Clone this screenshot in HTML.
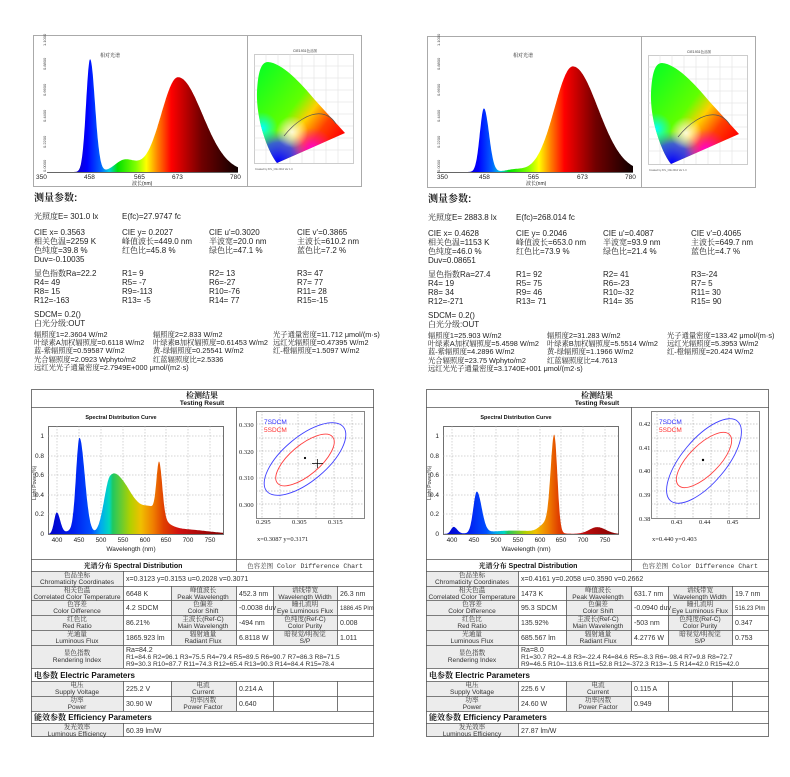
<!DOCTYPE html>
<html><head><meta charset="utf-8"><style>
html,body{margin:0;padding:0;background:#fff;}
svg{display:block;font-family:"Liberation Sans","Noto Serif CJK SC",sans-serif;}
.t{font-size:8px;fill:#222;}
.ir{font-size:7.3px;}
.c{font-family:"Liberation Serif","Noto Serif CJK SC",serif;}
.tb{font-size:6.6px;fill:#333;}
.tv{font-size:7px;fill:#333;}
.ax{font-size:6.5px;fill:#222;}
</style></head><body>
<svg width="790" height="777" viewBox="0 0 790 777" xmlns="http://www.w3.org/2000/svg">
<defs>
<linearGradient id="gTop" gradientUnits="userSpaceOnUse" x1="47" y1="0" x2="238" y2="0">
<stop offset="0.12" stop-color="#1a00a0"/><stop offset="0.21" stop-color="#0000ff"/><stop offset="0.28" stop-color="#0060ff"/>
<stop offset="0.325" stop-color="#00d0e0"/><stop offset="0.37" stop-color="#00e000"/><stop offset="0.465" stop-color="#80ff00"/>
<stop offset="0.52" stop-color="#ffff00"/><stop offset="0.58" stop-color="#ff8000"/><stop offset="0.65" stop-color="#ff0000"/>
<stop offset="0.72" stop-color="#c00000"/><stop offset="0.81" stop-color="#700000"/><stop offset="1" stop-color="#100000"/>
</linearGradient>
<linearGradient id="gTop2" href="#gTop" x1="437" x2="633"/>
<linearGradient id="gBot" gradientUnits="userSpaceOnUse" x1="17" y1="0" x2="192" y2="0">
<stop offset="0" stop-color="#0000c8"/><stop offset="0.15" stop-color="#0020f0"/><stop offset="0.25" stop-color="#0050ff"/>
<stop offset="0.3" stop-color="#00a8f0"/><stop offset="0.35" stop-color="#00d8c0"/><stop offset="0.37" stop-color="#20c860"/>
<stop offset="0.47" stop-color="#b0d000"/><stop offset="0.53" stop-color="#f0c000"/><stop offset="0.6" stop-color="#f08000"/>
<stop offset="0.66" stop-color="#e04000"/><stop offset="0.75" stop-color="#d01010"/><stop offset="1" stop-color="#800000"/>
</linearGradient>
<linearGradient id="cieA" gradientUnits="userSpaceOnUse" x1="262" y1="70" x2="345" y2="133">
<stop offset="0" stop-color="#10ff20"/><stop offset="0.45" stop-color="#60ff00"/><stop offset="0.62" stop-color="#ffd000"/><stop offset="0.8" stop-color="#ff4000"/><stop offset="1" stop-color="#ff0000"/>
</linearGradient>
<radialGradient id="cieB" gradientUnits="userSpaceOnUse" cx="278" cy="162" r="32"><stop offset="0" stop-color="#0000ff"/><stop offset="0.6" stop-color="#2040ff" stop-opacity="0.8"/><stop offset="1" stop-color="#00a0ff" stop-opacity="0"/></radialGradient>
<radialGradient id="cieM" gradientUnits="userSpaceOnUse" cx="312" cy="150" r="22"><stop offset="0" stop-color="#ff00e0"/><stop offset="1" stop-color="#ff00c0" stop-opacity="0"/></radialGradient>
<radialGradient id="cieC" gradientUnits="userSpaceOnUse" cx="262" cy="128" r="16"><stop offset="0" stop-color="#00ffff"/><stop offset="1" stop-color="#00ffff" stop-opacity="0"/></radialGradient>
<radialGradient id="cieW" gradientUnits="userSpaceOnUse" cx="292" cy="132" r="16"><stop offset="0" stop-color="#ffffff" stop-opacity="0.85"/><stop offset="1" stop-color="#ffffff" stop-opacity="0"/></radialGradient>
<g id="cie">
<rect x="247.5" y="35.5" width="114" height="151" fill="#fff" stroke="#aaa"/>
<rect x="254.5" y="54.5" width="99" height="109" fill="#fff" stroke="#999" stroke-width="0.5"/>
<g stroke="#ddd" stroke-width="0.5">
<line x1="266" y1="54" x2="266" y2="163"/><line x1="278" y1="54" x2="278" y2="163"/><line x1="290" y1="54" x2="290" y2="163"/><line x1="302" y1="54" x2="302" y2="163"/><line x1="314" y1="54" x2="314" y2="163"/><line x1="326" y1="54" x2="326" y2="163"/><line x1="338" y1="54" x2="338" y2="163"/>
<line x1="254" y1="66" x2="353" y2="66"/><line x1="254" y1="78" x2="353" y2="78"/><line x1="254" y1="90" x2="353" y2="90"/><line x1="254" y1="102" x2="353" y2="102"/><line x1="254" y1="114" x2="353" y2="114"/><line x1="254" y1="126" x2="353" y2="126"/><line x1="254" y1="138" x2="353" y2="138"/><line x1="254" y1="150" x2="353" y2="150"/>
</g>
<path d="M277,163 C268,152 256,120 257,92 C258,72 261,62 268,62 C282,63 300,82 315,100 L345,133 Z" fill="url(#cieA)"/>
<path d="M277,163 C268,152 256,120 257,92 C258,72 261,62 268,62 C282,63 300,82 315,100 L345,133 Z" fill="url(#cieC)"/>
<path d="M277,163 C268,152 256,120 257,92 C258,72 261,62 268,62 C282,63 300,82 315,100 L345,133 Z" fill="url(#cieB)"/>
<path d="M277,163 C268,152 256,120 257,92 C258,72 261,62 268,62 C282,63 300,82 315,100 L345,133 Z" fill="url(#cieM)"/>
<path d="M277,163 C268,152 256,120 257,92 C258,72 261,62 268,62 C282,63 300,82 315,100 L345,133 Z" fill="url(#cieW)"/>
<path d="M284,136 C295,122 310,112 322,114 C328,115 333,119 336,124" fill="none" stroke="#555" stroke-width="0.7"/>
<text x="305" y="52" font-size="3.5" text-anchor="middle" fill="#333">CIE1931色品图</text>
<text x="255" y="170" font-size="2.5" fill="#555">Created by ATL_CIE 2012 Ver 1.0</text>
</g>
</defs>

<!-- ============ TOP LEFT ============ -->
<rect x="33.5" y="35.5" width="214" height="151" fill="#fff" stroke="#aaa"/>
<path id="s1" fill="url(#gTop)"/>
<line x1="47" y1="172.5" x2="238" y2="172.5" stroke="#333" stroke-width="0.7"/>
<text x="100" y="57" font-size="5" fill="#222" class="c">相对光谱</text>
<g font-size="4" fill="#444">
<text transform="translate(46,172) rotate(-90)">0.0000</text><text transform="translate(46,148) rotate(-90)">0.2200</text>
<text transform="translate(46,122) rotate(-90)">0.4400</text><text transform="translate(46,96) rotate(-90)">0.6600</text>
<text transform="translate(46,70) rotate(-90)">0.8800</text><text transform="translate(46,46) rotate(-90)">1.1000</text>
</g>
<g class="ax" font-size="6"><text x="36" y="179">350</text><text x="84" y="179">458</text><text x="134" y="179">565</text><text x="172" y="179">673</text><text x="230" y="179">780</text>
<text x="132" y="185" font-size="5">波长(nm)</text></g>
<use href="#cie"/>

<g class="t">
<text x="34" y="201" font-size="10" font-weight="bold">测量参数:</text>
<text x="34" y="219"><tspan class="c">光照度</tspan>E=  301.0 lx</text><text x="122" y="219">E(fc)=27.9747 fc</text>
<text x="34" y="235">CIE x= 0.3563</text><text x="122" y="235">CIE y= 0.2027</text><text x="209" y="235">CIE u'=0.3020</text><text x="297" y="235">CIE v'=0.3865</text>
<text x="34" y="244"><tspan class="c">相关色温</tspan>=2259 K</text><text x="122" y="244"><tspan class="c">峰值波长</tspan>=449.0 nm</text><text x="209" y="244"><tspan class="c">半波宽</tspan>=20.0 nm</text><text x="297" y="244"><tspan class="c">主波长</tspan>=610.2 nm</text>
<text x="34" y="253"><tspan class="c">色纯度</tspan>=39.8 %</text><text x="122" y="253"><tspan class="c">红色比</tspan>=45.8 %</text><text x="209" y="253"><tspan class="c">绿色比</tspan>=47.1 %</text><text x="297" y="253"><tspan class="c">蓝色比</tspan>=7.2 %</text>
<text x="34" y="262">Duv=-0.10035</text>
<text x="34" y="276"><tspan class="c">显色指数</tspan>Ra=22.2</text><text x="122" y="276">R1=  9</text><text x="209" y="276">R2= 13</text><text x="297" y="276">R3= 47</text>
<text x="34" y="285">R4= 49</text><text x="122" y="285">R5= -7</text><text x="209" y="285">R6=-27</text><text x="297" y="285">R7= 77</text>
<text x="34" y="294">R8= 15</text><text x="122" y="294">R9=-113</text><text x="209" y="294">R10=-76</text><text x="297" y="294">R11= 28</text>
<text x="34" y="303">R12=-163</text><text x="122" y="303">R13= -5</text><text x="209" y="303">R14= 77</text><text x="297" y="303">R15=-15</text>
<text x="34" y="317">SDCM= 0.2()</text>
<text x="34" y="326"><tspan class="c">白光分级</tspan>:OUT</text>
<g class="ir">
<text x="34" y="337"><tspan class="c">辐照度</tspan>1=2.3604 W/m2</text><text x="153" y="337"><tspan class="c">辐照度</tspan>2=2.833 W/m2</text><text x="273" y="337"><tspan class="c">光子通量密度</tspan>=11.712 μmol/(m·s)</text>
<text x="34" y="345"><tspan class="c">叶绿素</tspan>A<tspan class="c">加权辐照度</tspan>=0.6118 W/m2</text><text x="153" y="345"><tspan class="c">叶绿素</tspan>B<tspan class="c">加权辐照度</tspan>=0.61453 W/m2</text><text x="273" y="345"><tspan class="c">远红光辐照度</tspan>=0.47395 W/m2</text>
<text x="34" y="353"><tspan class="c">蓝-紫辐照度</tspan>=0.59587 W/m2</text><text x="153" y="353"><tspan class="c">黄-绿辐照度</tspan>=0.25541 W/m2</text><text x="273" y="353"><tspan class="c">红-橙辐照度</tspan>=1.5097 W/m2</text>
<text x="34" y="362"><tspan class="c">光合辐照度</tspan>=2.0923 Wphyto/m2</text><text x="153" y="362"><tspan class="c">红蓝辐照度比</tspan>=2.5336</text>
<text x="34" y="370"><tspan class="c">远红光光子通量密度</tspan>=2.7949E+000 μmol/(m2·s)</text>
</g>
</g>

<!-- ============ TOP RIGHT ============ -->
<rect x="427.5" y="36.5" width="214" height="151" fill="#fff" stroke="#aaa"/>
<path id="s2" fill="url(#gTop2)"/>
<line x1="437" y1="172.5" x2="633" y2="172.5" stroke="#333" stroke-width="0.7"/>
<text x="513" y="57" font-size="5" fill="#222" class="c">相对光谱</text>
<g font-size="4" fill="#444">
<text transform="translate(440,172) rotate(-90)">0.0000</text><text transform="translate(440,148) rotate(-90)">0.2200</text>
<text transform="translate(440,122) rotate(-90)">0.4400</text><text transform="translate(440,96) rotate(-90)">0.6600</text>
<text transform="translate(440,70) rotate(-90)">0.8800</text><text transform="translate(440,46) rotate(-90)">1.1000</text>
</g>
<g class="ax" font-size="6"><text x="437" y="179">350</text><text x="479" y="179">458</text><text x="528" y="179">565</text><text x="577" y="179">673</text><text x="625" y="179">780</text>
<text x="526" y="185" font-size="5">波长(nm)</text></g>
<use href="#cie" x="394" y="1"/>

<g class="t" transform="translate(394,1)">
<text x="34" y="201" font-size="10" font-weight="bold">测量参数:</text>
<text x="34" y="219"><tspan class="c">光照度</tspan>E=  2883.8 lx</text><text x="122" y="219">E(fc)=268.014 fc</text>
<text x="34" y="235">CIE x= 0.4628</text><text x="122" y="235">CIE y= 0.2046</text><text x="209" y="235">CIE u'=0.4087</text><text x="297" y="235">CIE v'=0.4065</text>
<text x="34" y="244"><tspan class="c">相关色温</tspan>=1153 K</text><text x="122" y="244"><tspan class="c">峰值波长</tspan>=653.0 nm</text><text x="209" y="244"><tspan class="c">半波宽</tspan>=93.9 nm</text><text x="297" y="244"><tspan class="c">主波长</tspan>=649.7 nm</text>
<text x="34" y="253"><tspan class="c">色纯度</tspan>=46.0 %</text><text x="122" y="253"><tspan class="c">红色比</tspan>=73.9 %</text><text x="209" y="253"><tspan class="c">绿色比</tspan>=21.4 %</text><text x="297" y="253"><tspan class="c">蓝色比</tspan>=4.7 %</text>
<text x="34" y="262">Duv=0.08651</text>
<text x="34" y="276"><tspan class="c">显色指数</tspan>Ra=27.4</text><text x="122" y="276">R1= 92</text><text x="209" y="276">R2= 41</text><text x="297" y="276">R3=-24</text>
<text x="34" y="285">R4= 19</text><text x="122" y="285">R5= 75</text><text x="209" y="285">R6=-23</text><text x="297" y="285">R7=  5</text>
<text x="34" y="294">R8= 34</text><text x="122" y="294">R9= 46</text><text x="209" y="294">R10=-32</text><text x="297" y="294">R11= 30</text>
<text x="34" y="303">R12=-271</text><text x="122" y="303">R13= 71</text><text x="209" y="303">R14= 35</text><text x="297" y="303">R15= 90</text>
<text x="34" y="317">SDCM= 0.2()</text>
<text x="34" y="326"><tspan class="c">白光分级</tspan>:OUT</text>
<g class="ir">
<text x="34" y="337"><tspan class="c">辐照度</tspan>1=25.903 W/m2</text><text x="153" y="337"><tspan class="c">辐照度</tspan>2=31.283 W/m2</text><text x="273" y="337"><tspan class="c">光子通量密度</tspan>=133.42 μmol/(m·s)</text>
<text x="34" y="345"><tspan class="c">叶绿素</tspan>A<tspan class="c">加权辐照度</tspan>=5.4598 W/m2</text><text x="153" y="345"><tspan class="c">叶绿素</tspan>B<tspan class="c">加权辐照度</tspan>=5.5514 W/m2</text><text x="273" y="345"><tspan class="c">远红光辐照度</tspan>=5.3953 W/m2</text>
<text x="34" y="353"><tspan class="c">蓝-紫辐照度</tspan>=4.2896 W/m2</text><text x="153" y="353"><tspan class="c">黄-绿辐照度</tspan>=1.1966 W/m2</text><text x="273" y="353"><tspan class="c">红-橙辐照度</tspan>=20.424 W/m2</text>
<text x="34" y="362"><tspan class="c">光合辐照度</tspan>=23.75 Wphyto/m2</text><text x="153" y="362"><tspan class="c">红蓝辐照度比</tspan>=4.7613</text>
<text x="34" y="370"><tspan class="c">远红光光子通量密度</tspan>=3.1740E+001 μmol/(m2·s)</text>
</g>
</g>

<!-- ============ TABLE FRAMES (shared structure) ============ -->
<defs>
<g id="frame">
<rect x="0" y="389" width="343" height="348" fill="#fff"/>
<g fill="#ececec">
<rect x="0" y="571" width="92" height="15"/>
<rect x="0" y="586" width="92" height="59"/><rect x="140" y="586" width="65" height="59"/><rect x="242" y="586" width="64" height="59"/>
<rect x="0" y="645" width="92" height="23"/>
<rect x="0" y="681" width="92" height="30"/><rect x="140" y="681" width="65" height="30"/>
<rect x="0" y="723" width="92" height="14"/>
</g>
<g stroke="#555" stroke-width="0.8" fill="none">
<rect x="0.5" y="389.5" width="342" height="347"/>
<path d="M0 407.5H343M0 559.5H343M0 571.5H343M0 586.5H343M0 600.5H343M0 615.5H343M0 630.5H343M0 645.5H343M0 668.5H343M0 681.5H343M0 696.5H343M0 711.5H343M0 723.5H343"/>
<path d="M205.5 407V571M92.5 571V586M92.5 586V645M140.5 586V645M205.5 586V645M242.5 586V645M306.5 586V645M92.5 645V668M92.5 681V711M140.5 681V711M205.5 681V711M242.5 681V711M306.5 681V711M92.5 723V737"/>
</g>
<g text-anchor="middle" font-weight="bold" fill="#111">
<text x="171" y="398" font-size="8" class="c">检测结果</text>
<text x="171" y="405" font-size="6.5">Testing Result</text>
<text x="90" y="419" font-size="5.5">Spectral Distribution Curve</text>
<text x="102" y="568" font-size="7"><tspan class="c">光谱分布</tspan> Spectral Distribution</text>
</g>
<text x="274" y="568" font-size="6.5" text-anchor="middle" fill="#333" font-family="Liberation Mono,Noto Serif CJK SC,monospace"><tspan font-family="Noto Serif CJK SC,serif">色容差图</tspan> Color Difference Chart</text>
<text x="3" y="678" font-size="8" font-weight="bold" fill="#111"><tspan class="c">电参数</tspan> Electric Parameters</text>
<text x="3" y="720" font-size="8" font-weight="bold" fill="#111"><tspan class="c">能效参数</tspan> Efficiency Parameters</text>
<g class="tb" text-anchor="middle">
<text x="46" y="577">色品坐标</text><text x="46" y="584">Chromaticity Coordinates</text>
<text x="46" y="592">相关色温</text><text x="46" y="599">Correlated Color Temperature</text>
<text x="172" y="592">峰值波长</text><text x="172" y="599">Peak Wavelength</text>
<text x="274" y="592">谱线带宽</text><text x="274" y="599">Wavelength Width</text>
<text x="46" y="606">色容差</text><text x="46" y="613">Color Difference</text>
<text x="172" y="606">色偏差</text><text x="172" y="613">Color Shift</text>
<text x="274" y="606">瞳孔流明</text><text x="274" y="613">Eye Luminous Flux</text>
<text x="46" y="621">红色比</text><text x="46" y="628">Red Ratio</text>
<text x="172" y="621">主波长(Ref-C)</text><text x="172" y="628">Main Wavelength</text>
<text x="274" y="621">色纯度(Ref-C)</text><text x="274" y="628">Color Purity</text>
<text x="46" y="636">光通量</text><text x="46" y="643">Luminous Flux</text>
<text x="172" y="636">辐射通量</text><text x="172" y="643">Radiant Flux</text>
<text x="274" y="636">暗视觉/明视觉</text><text x="274" y="643">S/P</text>
<text x="46" y="655">显色指数</text><text x="46" y="662">Rendering Index</text>
<text x="46" y="687">电压</text><text x="46" y="694">Supply Voltage</text>
<text x="172" y="687">电流</text><text x="172" y="694">Current</text>
<text x="46" y="702">功率</text><text x="46" y="709">Power</text>
<text x="172" y="702">功率因数</text><text x="172" y="709">Power Factor</text>
<text x="46" y="729">发光效率</text><text x="46" y="736">Luminous Efficiency</text>
</g>
<rect x="17.5" y="426.5" width="175" height="108" fill="#fff" stroke="#333" stroke-width="0.7"/>
<g stroke="#aaa" stroke-width="0.5" stroke-dasharray="1.5,1.5">
<line x1="26" y1="426" x2="26" y2="534"/><line x1="48" y1="426" x2="48" y2="534"/><line x1="70" y1="426" x2="70" y2="534"/><line x1="92" y1="426" x2="92" y2="534"/><line x1="114" y1="426" x2="114" y2="534"/><line x1="135" y1="426" x2="135" y2="534"/><line x1="157" y1="426" x2="157" y2="534"/><line x1="179" y1="426" x2="179" y2="534"/>
<line x1="17" y1="436" x2="192" y2="436"/><line x1="17" y1="456" x2="192" y2="456"/><line x1="17" y1="475" x2="192" y2="475"/><line x1="17" y1="495" x2="192" y2="495"/><line x1="17" y1="514" x2="192" y2="514"/>
</g>
<g class="ax" text-anchor="middle">
<text x="26" y="542">400</text><text x="48" y="542">450</text><text x="70" y="542">500</text><text x="92" y="542">550</text><text x="114" y="542">600</text><text x="135" y="542">650</text><text x="157" y="542">700</text><text x="179" y="542">750</text>
<text x="100" y="551">Wavelength  (nm)</text>
</g>
<g class="ax" text-anchor="end">
<text x="13" y="536">0</text><text x="13" y="516">0.2</text><text x="13" y="497">0.4</text><text x="13" y="477">0.6</text><text x="13" y="458">0.8</text><text x="13" y="438">1</text>
</g>
<text transform="translate(5,500) rotate(-90)" font-size="5" fill="#333">Light Power(%)</text>
<rect x="225.5" y="411.5" width="108" height="107" fill="#fff" stroke="#555" stroke-width="0.7"/>
<g stroke="#999" stroke-width="0.5" stroke-dasharray="1.5,1.5">
<line x1="231" y1="411" x2="231" y2="518"/><line x1="249" y1="411" x2="249" y2="518"/><line x1="267" y1="411" x2="267" y2="518"/><line x1="285" y1="411" x2="285" y2="518"/><line x1="303" y1="411" x2="303" y2="518"/><line x1="321" y1="411" x2="321" y2="518"/>
<line x1="225" y1="424" x2="333" y2="424"/><line x1="225" y1="438" x2="333" y2="438"/><line x1="225" y1="451" x2="333" y2="451"/><line x1="225" y1="464" x2="333" y2="464"/><line x1="225" y1="478" x2="333" y2="478"/><line x1="225" y1="491" x2="333" y2="491"/><line x1="225" y1="504" x2="333" y2="504"/>
</g>
<text x="233" y="424" font-size="6.5" fill="#3030ff">7SDCM</text>
<text x="233" y="432" font-size="6.5" fill="#ff3030">5SDCM</text>
</g>
</defs>

<!-- ============ BOTTOM LEFT ============ -->
<g transform="translate(31,0)">
<use href="#frame"/>
<path id="s3" fill="url(#gBot)"/>
<g class="ax" font-family="Liberation Serif,serif">
<text x="208" y="427">0.330</text><text x="208" y="454">0.320</text><text x="208" y="480">0.310</text><text x="208" y="507">0.300</text>
<text x="225" y="524">0.295</text><text x="261" y="524">0.305</text><text x="297" y="524">0.315</text>
<text x="226" y="541">x=0.3087  y=0.3171</text>
</g>
<ellipse cx="274" cy="459" rx="50" ry="22" transform="rotate(-40 274 459)" fill="none" stroke="#4040ff" stroke-width="0.9"/>
<ellipse cx="274" cy="460" rx="36" ry="15" transform="rotate(-40 274 460)" fill="none" stroke="#ff4040" stroke-width="0.9"/>
<circle cx="274" cy="458" r="1.1" fill="#000"/>
<path d="M281 463.5H292M286.5 459V468" stroke="#000" stroke-width="0.7"/>
<g class="tv">
<text x="95" y="581">x=0.3123 y=0.3153 u=0.2028 v=0.3071</text>
<text x="95" y="596">6648  K</text><text x="208" y="596">452.3 nm</text><text x="309" y="596">26.3  nm</text>
<text x="95" y="610">4.2  SDCM</text><text x="208" y="610">-0.0038 duv</text><text x="309" y="610" font-size="6">1886.45 Plm</text>
<text x="95" y="625">86.21%</text><text x="208" y="625">-494 nm</text><text x="309" y="625">0.008</text>
<text x="95" y="640">1865.923 lm</text><text x="208" y="640">6.8118  W</text><text x="309" y="640">1.011</text>
<text x="95" y="652">Ra=84.2</text>
<text x="95" y="659" font-size="6.6">R1=84.6  R2=96.1  R3=75.5  R4=79.4  R5=89.5  R6=90.7  R7=86.3  R8=71.5</text>
<text x="95" y="666" font-size="6.6">R9=30.3  R10=87.7  R11=74.3  R12=65.4  R13=90.3  R14=84.4  R15=78.4</text>
<text x="95" y="691">225.2  V</text><text x="208" y="691">0.214  A</text>
<text x="95" y="706">30.90  W</text><text x="208" y="706">0.640</text>
<text x="95" y="733">60.39 lm/W</text>
</g>
</g>

<!-- ============ BOTTOM RIGHT ============ -->
<g transform="translate(426,0)">
<use href="#frame"/>
<path id="s4" fill="url(#gBot)"/>
<g class="ax" font-family="Liberation Serif,serif">
<text x="213" y="426">0.42</text><text x="213" y="450">0.41</text><text x="213" y="473">0.40</text><text x="213" y="497">0.39</text><text x="213" y="521">0.38</text>
<text x="245" y="524">0.43</text><text x="273" y="524">0.44</text><text x="301" y="524">0.45</text>
<text x="226" y="541">x=0.440  y=0.403</text>
</g>
<ellipse cx="278" cy="461" rx="52" ry="22" transform="rotate(-50 278 461)" fill="none" stroke="#4040ff" stroke-width="0.9"/>
<ellipse cx="278" cy="460" rx="36" ry="15" transform="rotate(-45 278 460)" fill="none" stroke="#ff4040" stroke-width="0.9"/>
<circle cx="277" cy="460" r="1.2" fill="#000"/>
<g class="tv">
<text x="95" y="581">x=0.4161 y=0.2058 u=0.3590 v=0.2662</text>
<text x="95" y="596">1473  K</text><text x="208" y="596">631.7 nm</text><text x="309" y="596">19.7  nm</text>
<text x="95" y="610">95.3  SDCM</text><text x="208" y="610">-0.0940 duv</text><text x="309" y="610" font-size="6">516.23 Plm</text>
<text x="95" y="625">135.92%</text><text x="208" y="625">-503 nm</text><text x="309" y="625">0.347</text>
<text x="95" y="640">685.567 lm</text><text x="208" y="640">4.2776  W</text><text x="309" y="640">0.753</text>
<text x="95" y="652">Ra=8.0</text>
<text x="95" y="659" font-size="6.6">R1=30.7  R2=-4.8  R3=-22.4  R4=84.6  R5=-8.3  R6=-98.4  R7=9.8  R8=72.7</text>
<text x="95" y="666" font-size="6.6">R9=46.5  R10=-113.6  R11=52.8  R12=-372.3  R13=-1.5  R14=42.0  R15=42.0</text>
<text x="95" y="691">225.6  V</text><text x="208" y="691">0.115  A</text>
<text x="95" y="706">24.60  W</text><text x="208" y="706">0.949</text>
<text x="95" y="733">27.87 lm/W</text>
</g>
</g>
</svg>
<script>
const G=(x,m,sl,sr,a)=>a*Math.exp(-0.5*Math.pow((x-m)/(x<m?sl:sr),2));
function P(id,f,w0,w1,x0,x1,yb,sc){let d='M'+x0+' '+yb;for(let w=w0;w<=w1;w++){const x=x0+(w-w0)*(x1-x0)/(w1-w0);d+='L'+x.toFixed(1)+' '+(yb-Math.min(f(w),1.15)*sc).toFixed(1);}d+='L'+x1+' '+yb+'Z';document.getElementById(id).setAttribute('d',d);}
P('s1',w=>G(w,447,9,11,0.94)+G(w,525,22,25,0.1)+G(w,645,38,55,0.79),350,780,47,238,172,120);
P('s2',w=>G(w,453,9,11,0.53)+G(w,520,20,20,0.02)+G(w,648,40,55,0.88),350,780,437,633,172,120);
P('s3',w=>G(w,400,6,8,0.22)+G(w,452,8,12,0.98)+G(w,430,10,10,0.03)+G(w,522,14,25,0.52)+G(w,565,25,30,0.33)+G(w,634,6,7,0.53)+G(w,620,20,25,0.2)+G(w,680,30,60,0.05),380,780,17,192,534,98);
P('s4',w=>G(w,402,6,8,0.07)+G(w,455,8,11,0.42)+G(w,540,60,60,0.035)+G(w,632,8,7,0.98)+G(w,615,15,10,0.1)+G(w,730,18,20,0.07),380,780,18,193,534,98);
</script>
</body></html>
